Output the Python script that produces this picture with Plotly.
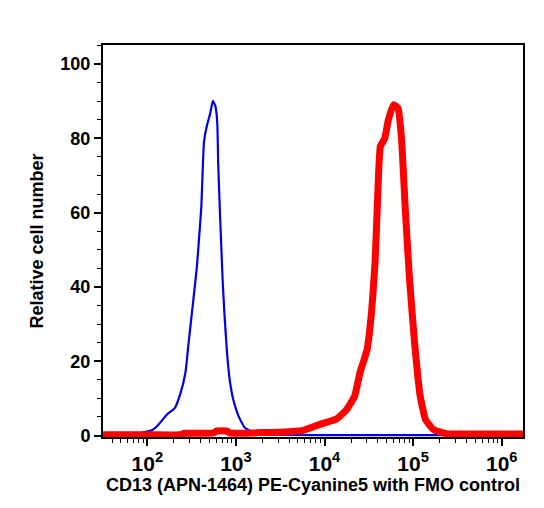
import plotly.graph_objects as go

# FMO control (blue), log10 of fluorescence intensity and relative cell number
fmo_log_x = [1.91, 2.05, 2.11, 2.22, 2.31, 2.37, 2.43, 2.47, 2.52, 2.56, 2.58, 2.61, 2.625,
             2.64, 2.67, 2.71, 2.74, 2.77, 2.79, 2.80, 2.82, 2.85, 2.87, 2.90, 2.93, 2.97,
             3.03, 3.10, 3.20, 3.5, 4.0, 4.5, 5.0, 5.5, 6.0, 6.24]
fmo_y = [0.6, 1.4, 2.5, 5.6, 7.4, 11, 16.9, 25.8, 36.6, 45.5, 51.8, 61.6, 71.5,
         79.1, 83.1, 86.7, 90.1, 88.5, 84, 73.3, 59.9, 41.9, 33, 22.2, 15, 9.7,
         5.2, 2.1, 0.9, 0.2, 0.1, 0.1, 0.1, 0.1, 0.1, 0.1]

# CD13 stained sample (red)
cd13_log_x = [1.5, 2.0, 2.38, 2.42, 2.75, 2.78, 2.9, 2.93, 3.2, 3.27, 3.5, 3.76, 3.95,
              4.14, 4.25, 4.34, 4.40, 4.48, 4.53, 4.57, 4.60, 4.63, 4.68, 4.72, 4.78,
              4.83, 4.87, 4.91, 4.96, 5.02, 5.08, 5.14, 5.23, 5.38, 5.7, 6.0, 6.24]
cd13_y = [0.2, 0.2, 0.2, 0.6, 0.7, 1.2, 1.2, 0.7, 0.7, 0.8, 0.9, 1.4, 3.0,
          4.5, 7.0, 10.6, 16.9, 23.1, 33, 46.4, 64.3, 77.8, 80, 84.9, 89,
          88.1, 79.6, 61.6, 41.9, 24, 10.6, 4.3, 1.6, 0.5, 0.4, 0.4, 0.4]

x_tick_exponents = [2, 3, 4, 5, 6]
y_ticks = [0, 20, 40, 60, 80, 100]

FONT = "Liberation Sans, Arial, sans-serif"

fig = go.Figure()
fig.add_trace(go.Scatter(x=[10 ** v for v in fmo_log_x], y=fmo_y, mode="lines",
                         line=dict(color="#0000e6", width=2.2, shape="spline", smoothing=0.4),
                         showlegend=False))
fig.add_trace(go.Scatter(x=[10 ** v for v in cd13_log_x], y=cd13_y, mode="lines",
                         line=dict(color="#ff0000", width=7, shape="spline", smoothing=0.4),
                         showlegend=False))

minor_vals = [m * 10 ** e for e in range(1, 7) for m in range(2, 10)]

fig.update_layout(
    width=544, height=508,
    margin=dict(l=103, r=21, t=45, b=71),
    plot_bgcolor="white", paper_bgcolor="white",
    font=dict(family=FONT, color="black"),
    xaxis=dict(
        type="log", range=[1.5, 6.24],
        tickvals=[10 ** e for e in x_tick_exponents],
        ticktext=[f"<b>10<sup>{e}</sup></b>" for e in x_tick_exponents],
        ticks="outside", ticklen=7, tickwidth=2, tickcolor="black",
        tickfont=dict(size=21, family=FONT, color="black"),
        minor=dict(tickvals=minor_vals, ticks="outside", ticklen=4, tickwidth=1, tickcolor="black"),
        showline=True, linecolor="black", linewidth=2, mirror=True,
        showgrid=False, zeroline=False,
        title=dict(text="<b>CD13 (APN-1464) PE-Cyanine5 with FMO control</b>",
                   font=dict(size=18, family=FONT, color="black"),
                   standoff=2),
    ),
    yaxis=dict(
        range=[-0.4, 105.1],
        tickvals=y_ticks, ticktext=[f"<b>{v}</b>" for v in y_ticks],
        ticks="outside", ticklen=7, tickwidth=2, tickcolor="black",
        tickfont=dict(size=18, family=FONT, color="black"),
        minor=dict(dtick=5, ticks="outside", ticklen=4, tickwidth=1, tickcolor="black"),
        showline=True, linecolor="black", linewidth=2, mirror=True,
        showgrid=False, zeroline=False,
        title=dict(text="<b>Relative cell number</b>",
                   font=dict(size=18, family=FONT, color="black"),
                   standoff=12),
    ),
)

fig.write_html("out.html")
